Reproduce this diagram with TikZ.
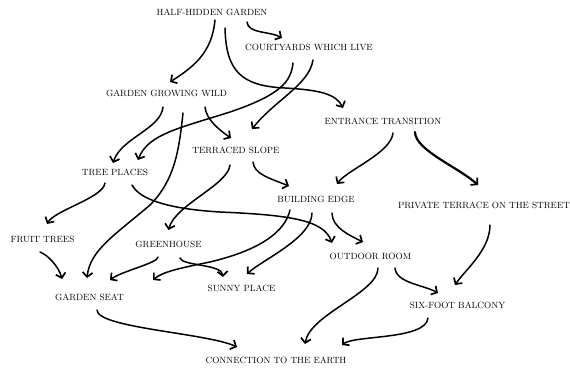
\documentclass[tikz,border=0pt]{standalone}
\usetikzlibrary{arrows.meta}

\begin{document}
\begin{tikzpicture}[x=1pt,y=-1pt,>={Straight Barb[length=4.5pt,width=10pt,line width=1.7pt]},
		patt/.style={font=\fontsize{9}{10}\selectfont,inner sep=0pt},
		link/.style={->,line width=1.5pt,line cap=round}]
			\useasboundingbox (0,0) rectangle (570,368);

			\node[patt] (hhg) at (212,12) {HALF-HIDDEN GARDEN};
			\node[patt] (cwl) at (309,47) {COURTYARDS WHICH LIVE};
			\node[patt] (ggw) at (166.5,93) {GARDEN GROWING WILD};
			\node[patt] (ent) at (383,121) {ENTRANCE TRANSITION};
			\node[patt] (terr) at (236,150) {TERRACED SLOPE};
			\node[patt] (tree) at (115,172) {TREE PLACES};
			\node[patt] (be) at (316,199) {BUILDING EDGE};
			\node[patt] (pt) at (484,205) {PRIVATE TERRACE ON THE STREET};
			\node[patt] (fruit) at (42.5,239.5) {FRUIT TREES};
			\node[patt] (gh) at (168.5,244) {GREENHOUSE};
			\node[patt] (out) at (370.5,256) {OUTDOOR ROOM};
			\node[patt] (sunny) at (241.5,288) {SUNNY PLACE};
			\node[patt] (seat) at (89.5,297) {GARDEN SEAT};
			\node[patt] (six) at (457.5,305) {SIX-FOOT BALCONY};
			\node[patt] (conn) at (276,360) {CONNECTION TO THE EARTH};

			% from the top
			\draw[link] ([shift={(3,8)}]hhg.center) .. controls (212,52) and (195,66) .. ([shift={(3.5,-11)}]ggw.center);
			\draw[link] ([shift={(35,10)}]hhg.center) .. controls (248,34) and (270,31) .. ([shift={(-27,-9)}]cwl.center);
			\draw[link] ([shift={(13,16)}]hhg.center) .. controls (226,70) and (240,86) .. (285,88)
				.. controls (320,90) and (336,94) .. ([shift={(-40,-13)}]ent.center);
			\draw[link] ([shift={(-16,16)}]cwl.center) .. controls (291,82) and (280,95) .. (230,112)
				.. controls (180,128) and (148,134) .. ([shift={(23,-12)}]tree.center);
			\draw[link] ([shift={(4,13)}]cwl.center) .. controls (309,85) and (275,100) .. ([shift={(16,-21)}]terr.center);
			\draw[link] ([shift={(-3.5,14)}]ggw.center) .. controls (161,129) and (121,138) .. ([shift={(-2,-9)}]tree.center);
			\draw[link] ([shift={(16.5,20)}]ggw.center) .. controls (179,150) and (175,180) .. (150,205)
				.. controls (115,235) and (90,250) .. ([shift={(-2.5,-19)}]seat.center);
			\draw[link] ([shift={(38.5,14)}]ggw.center) .. controls (206,119) and (219,130) .. ([shift={(-5,-12)}]terr.center);

			% middle
			\draw[link] ([shift={(17,12)}]terr.center) .. controls (254,174) and (269,178) .. ([shift={(-27,-13)}]be.center);
			\draw[link] ([shift={(-6,15)}]terr.center) .. controls (228,185) and (175,205) .. ([shift={(0,-14)}]gh.center);
			\draw[link] ([shift={(-10,11)}]tree.center) .. controls (103,198) and (55,210) .. ([shift={(4.5,-15.5)}]fruit.center);
			\draw[link] ([shift={(17,13)}]tree.center) .. controls (140,200) and (170,209) .. (220,212)
				.. controls (290,215) and (324,220) .. ([shift={(-38.5,-13)}]out.center);
			\draw[link] ([shift={(10,12)}]ent.center) .. controls (391,153) and (347,170) .. ([shift={(21,-15)}]be.center);
			\draw[link,line width=2.2pt] ([shift={(32,11)}]ent.center) .. controls (415,150) and (458,167) .. ([shift={(-6,-20)}]pt.center);

			% lower part
			\draw[link] ([shift={(-2.5,12.5)}]fruit.center) .. controls (48,255) and (59,267) .. ([shift={(-27.5,-18)}]seat.center);
			\draw[link] ([shift={(-10.5,13)}]gh.center) .. controls (158,263) and (122,271) .. ([shift={(20.5,-17)}]seat.center);
			\draw[link] ([shift={(11.5,14)}]gh.center) .. controls (182,266) and (222,264) .. ([shift={(-18.5,-11)}]sunny.center);
			\draw[link] ([shift={(-26,11)}]be.center) .. controls (285,232) and (260,250) .. (210,262)
				.. controls (180,268) and (162,272) .. ([shift={(63.5,-17)}]seat.center);
			\draw[link] ([shift={(-4,14)}]be.center) .. controls (312,238) and (262,260) .. ([shift={(5.5,-14)}]sunny.center);
			\draw[link] ([shift={(16,14)}]be.center) .. controls (332,228) and (351,236) .. ([shift={(-7.5,-14)}]out.center);
			\draw[link] ([shift={(6,20)}]pt.center) .. controls (490,250) and (465,270) .. ([shift={(-2.5,-20)}]six.center);
			\draw[link] ([shift={(24.5,12)}]out.center) .. controls (396,283) and (424,285) .. ([shift={(-19.5,-12)}]six.center);

			% to the earth
			\draw[link] ([shift={(7.5,12)}]out.center) .. controls (378,293) and (310,314) .. ([shift={(29,-16)}]conn.center);
			\draw[link] ([shift={(-29.5,13)}]six.center) .. controls (426,340) and (354,335) .. ([shift={(66,-15)}]conn.center);
			\draw[link] ([shift={(7.5,13)}]seat.center) .. controls (97,328) and (207,333) .. ([shift={(-39,-13)}]conn.center);
		\end{tikzpicture}
\end{document}
